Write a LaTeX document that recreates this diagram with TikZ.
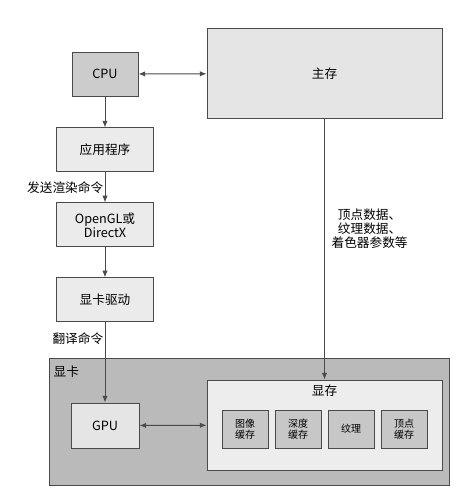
\documentclass[tikz,border=0pt]{standalone}
\usepackage{fontspec}
\setmainfont{Noto Sans CJK SC}
\usepackage{tikz}
\usetikzlibrary{arrows.meta,positioning}
\definecolor{lineGray}{HTML}{4A4A4A}
\tikzset{
  gpu/box/.style={draw=lineGray, line width=0.7pt, align=center, inner sep=2pt,
    font=\fontsize{9.5}{10.5}\selectfont},
  gpu/colbox/.style={gpu/box, fill=black!8, minimum width=72.75pt, minimum height=33pt},
  gpu/cache/.style={gpu/box, fill=black!22, minimum width=34.5pt, minimum height=28.5pt,
    font=\fontsize{7.5}{8}\selectfont},
  gpu/label/.style={font=\fontsize{9.5}{10.5}\selectfont, inner sep=1pt, align=center},
  gpu/arr/.style={-{Latex[length=5pt,width=4pt]}, draw=lineGray, line width=0.7pt},
  gpu/biarr/.style={{Latex[length=5pt,width=4pt]}-{Latex[length=5pt,width=4pt]}, draw=lineGray, line width=0.7pt}
}
\begin{document}
\begin{tikzpicture}[x=0.75pt, y=-0.75pt]
\useasboundingbox (0,0) rectangle (460,496);
% graphics card and its memory
\node[gpu/box, fill=black!27, minimum width=300pt, minimum height=95.25pt] (card) at (249,421.5) {};
\node[gpu/label, anchor=north west] (cardlabel) at (52,364) {显卡};
\node[gpu/box, fill=black!7, minimum width=176.25pt, minimum height=67.5pt] (vram) at (324.5,425) {};
\node[gpu/label, anchor=north] (vramlabel) at (324.5,383) {显存};
\foreach \name/\txt [count=\i from 0] in {img/{图像\\缓存}, depth/{深度\\缓存}, tex/{纹理}, vert/{顶点\\缓存}}
  \node[gpu/cache] (\name) at (245+53*\i,429) {\txt};
\node[gpu/box, fill=black!10, minimum width=51pt, minimum height=33.75pt] (gpu) at (105,425.5) {GPU};

% left column
\node[gpu/box, fill=black!20, minimum width=49.5pt, minimum height=33pt] (cpu) at (105,74) {CPU};
\node[gpu/colbox, below=23.25pt of cpu] (app) {应用程序};
\node[gpu/colbox, below=22.5pt of app] (api) {OpenGL或\\DirectX};
\node[gpu/colbox, below=22.5pt of api] (driver) {显卡驱动};

% main memory
\node[gpu/box, fill=black!10, minimum width=176.25pt, minimum height=67.5pt] (ram) at (324.5,73.5) {主存};

\draw[gpu/biarr] (cpu) -- (ram);
\draw[gpu/arr] (cpu) -- (app);
\draw[gpu/arr] (app) -- node[gpu/label, left, pos=0.5] {发送渲染命令} (api);
\draw[gpu/arr] (api) -- (driver);
\draw[gpu/arr] (driver.south -| gpu.north) -- node[gpu/label, left, pos=0.2] {翻译命令} (gpu.north);
\draw[gpu/arr] (ram.south) -- node[gpu/label, right=4pt, pos=0.42] {顶点数据、\\纹理数据、\\着色器参数等} (vram.north);
\draw[gpu/biarr] (gpu) -- (vram);
\end{tikzpicture}
\end{document}
